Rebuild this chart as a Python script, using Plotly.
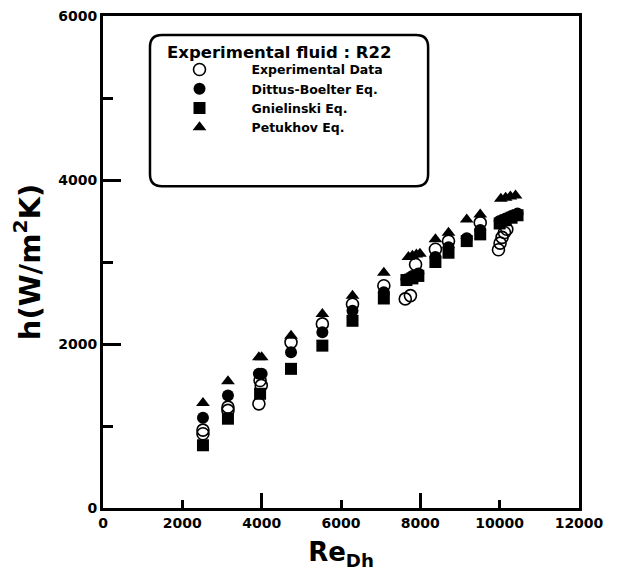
import plotly.graph_objects as go

# ---------------- data ----------------
exp_re = [2520, 2520, 3150, 3150, 3960, 3990, 3930, 4740, 5530, 6290, 7080,
          7620, 7750, 7880, 8380, 8710, 9510, 9970, 10010, 10060, 10120, 10180]
exp_h = [950, 905, 1230, 1190, 1555, 1495, 1270, 2020, 2245, 2485, 2710,
         2550, 2590, 2970, 3155, 3255, 3480, 3150, 3230, 3300, 3360, 3400]

db_re = [2520, 3150, 3930, 4000, 4740, 5530, 6290, 7080, 7650, 7800, 7950,
         8380, 8710, 9170, 9510, 10000, 10150, 10300, 10450]
db_h = [1100, 1373, 1636, 1636, 1900, 2142, 2405, 2630, 2790, 2830, 2860,
        3060, 3180, 3290, 3390, 3500, 3530, 3560, 3590]

gn_re = [2520, 3150, 3960, 4740, 5530, 6290, 7080, 7650, 7800, 7950,
         8380, 8710, 9170, 9510, 10000, 10150, 10300, 10450]
gn_h = [765, 1089, 1393, 1697, 1980, 2283, 2555, 2780, 2800, 2830,
        3000, 3113, 3255, 3337, 3470, 3510, 3540, 3570]

pet_re = [2520, 3150, 3930, 4000, 4740, 5530, 6290, 7080, 7700, 7800, 7900, 7990,
          8380, 8710, 9170, 9510, 10030, 10150, 10270, 10400]
pet_h = [1279, 1547, 1838, 1838, 2101, 2365, 2587, 2870, 3060, 3075, 3090, 3100,
         3276, 3356, 3519, 3580, 3770, 3785, 3800, 3810]

series_names = ["Experimental Data", "Dittus-Boelter Eq.", "Gnielinski Eq.", "Petukhov Eq."]
legend_title = "Experimental fluid : R22"
x_ticks = [0, 2000, 4000, 6000, 8000, 10000, 12000]
x_ticktext = ["0", "2000", "4000", "6000", "8000", "10000", "12000"]
x_long_ticks = [4000, 8000]
y_ticks = [0, 2000, 4000, 6000]
y_ticktext = ["0", "2000", "4000", "6000"]

FONT = "DejaVu Sans"
BOLD = "bold"

fig = go.Figure()
fig.add_trace(go.Scatter(x=exp_re, y=exp_h, mode="markers", name=series_names[0],
                         marker=dict(symbol="circle-open", size=12, color="black",
                                     line=dict(width=1.6, color="black"))))
fig.add_trace(go.Scatter(x=db_re, y=db_h, mode="markers", name=series_names[1],
                         marker=dict(symbol="circle", size=12, color="black")))
fig.add_trace(go.Scatter(x=gn_re, y=gn_h, mode="markers", name=series_names[2],
                         marker=dict(symbol="square", size=12, color="black")))
fig.add_trace(go.Scatter(x=pet_re, y=pet_h, mode="markers", name=series_names[3],
                         marker=dict(symbol="triangle-up", size=12, color="black")))
# helper trace so the overlay axis (long ticks) is drawn
fig.add_trace(go.Scatter(x=[None], y=[None], xaxis="x2", showlegend=False,
                         hoverinfo="skip", mode="markers"))

# rounded legend frame
x0, x1, y0, y1 = 0.0987, 0.683, 0.654, 0.9615
rx, ry = 0.0252, 0.0243
path = (f"M {x0+rx},{y1} L {x1-rx},{y1} Q {x1},{y1} {x1},{y1-ry} "
        f"L {x1},{y0+ry} Q {x1},{y0} {x1-rx},{y0} L {x0+rx},{y0} "
        f"Q {x0},{y0} {x0},{y0+ry} L {x0},{y1-ry} Q {x0},{y1} {x0+rx},{y1} Z")
fig.add_shape(type="path", path=path, xref="paper", yref="paper",
              line=dict(color="black", width=2.5), fillcolor="rgba(0,0,0,0)")

fig.add_annotation(text=legend_title, xref="paper", yref="paper",
                   x=0.130, y=0.925, xanchor="left", yanchor="middle", showarrow=False,
                   font=dict(family=FONT, size=16.5, color="black", weight=BOLD))

tickfont = dict(family=FONT, size=14, color="black", weight=BOLD)

fig.update_layout(
    width=636, height=575,
    margin=dict(l=95, r=65, t=8, b=75),
    paper_bgcolor="white", plot_bgcolor="white",
    showlegend=True,
    legend=dict(x=0.0935, y=0.921, xanchor="left", yanchor="top",
                bgcolor="rgba(0,0,0,0)", borderwidth=0,
                font=dict(family=FONT, size=12.5, color="black", weight=BOLD),
                itemwidth=94, tracegroupgap=0),
    xaxis=dict(range=[0, 12000], tickvals=x_ticks, ticktext=x_ticktext,
               ticks="inside", ticklen=8, automargin=False, ticklabeloverflow="allow",
               tickwidth=3, tickcolor="black", showline=True, linewidth=3,
               linecolor="black", mirror=True, showgrid=False, zeroline=False,
               tickfont=tickfont,
               title=dict(text="Re<sub>Dh</sub>",
                          font=dict(family=FONT, size=26, color="black", weight=BOLD),
                          standoff=14)),
    xaxis2=dict(range=[0, 12000], overlaying="x", anchor="y", side="bottom",
                tickvals=x_long_ticks, ticks="inside", ticklen=15, tickwidth=3,
                tickcolor="black", showticklabels=False, showline=False,
                showgrid=False, zeroline=False, automargin=False),
    yaxis=dict(range=[0, 6000], tickvals=y_ticks, ticktext=y_ticktext,
               ticks="inside", ticklen=18, automargin=False, ticklabeloverflow="allow",
               tickwidth=3, tickcolor="black", showline=True, linewidth=3,
               linecolor="black", mirror=True, showgrid=False, zeroline=False,
               minor=dict(dtick=1000, ticks="inside", ticklen=10, tickwidth=3,
                          tickcolor="black", showgrid=False),
               tickfont=tickfont,
               title=dict(text="h(W/m<sup>2</sup>K)",
                          font=dict(family=FONT, size=29, color="black", weight=BOLD),
                          standoff=10)),
)

fig.write_html("out.html")
